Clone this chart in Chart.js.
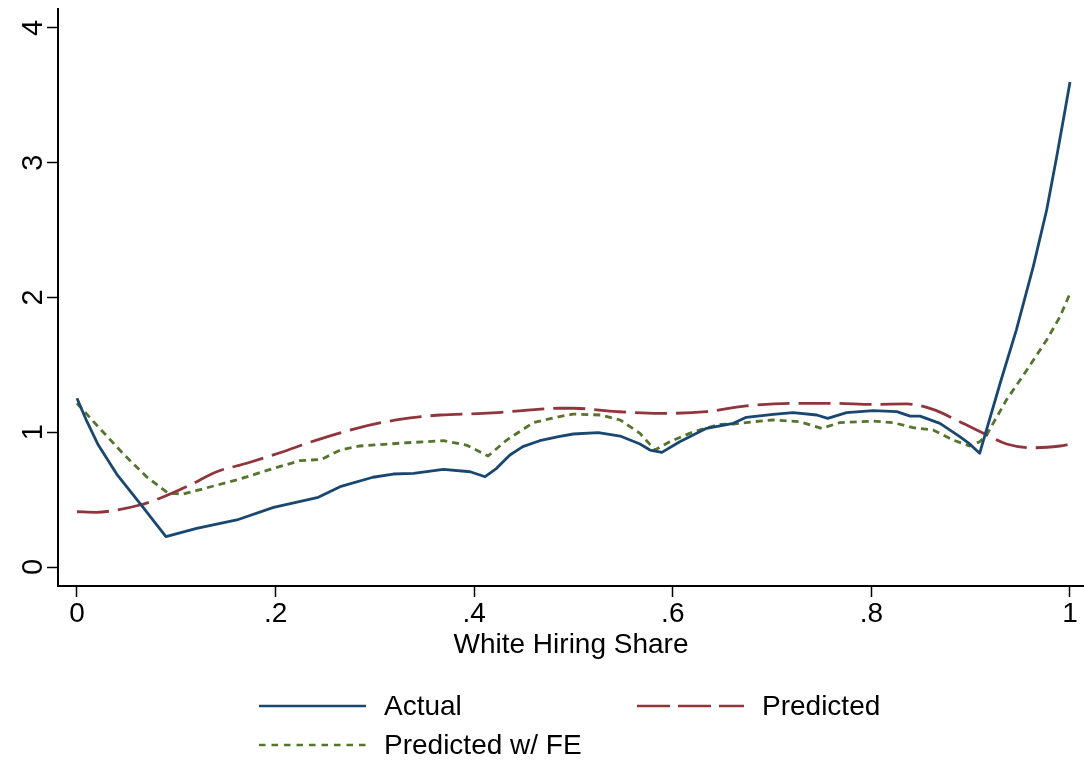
<!DOCTYPE html>
<html>
<head>
<meta charset="utf-8">
<title>White Hiring Share</title>
<script src="https://cdn.jsdelivr.net/npm/chart.js@4.4.1/dist/chart.umd.min.js"></script>
<style>
  html, body { margin: 0; padding: 0; background: #ffffff; }
  #wrap { width: 1084px; height: 762px; }
</style>
</head>
<body>
<div id="wrap"><canvas id="c" width="1084" height="762"></canvas></div>
<script>
// Series: ratio by white hiring share
const actualX = [0, 0.01, 0.0215, 0.04, 0.0668, 0.0896, 0.1205, 0.161, 0.198, 0.243, 0.265, 0.298, 0.3185, 0.339, 0.369, 0.396, 0.411, 0.4226, 0.436, 0.449, 0.466, 0.485, 0.4998, 0.525, 0.547, 0.567, 0.577, 0.589, 0.607, 0.634, 0.661, 0.674, 0.701, 0.721, 0.745, 0.756, 0.775, 0.802, 0.8255, 0.839, 0.849, 0.869, 0.889, 0.899, 0.909, 0.9295, 0.946, 0.963, 0.9765, 0.9866, 0.995, 1];
const actualY = [1.252, 1.08, 0.905, 0.69, 0.44, 0.225, 0.287, 0.349, 0.443, 0.517, 0.596, 0.666, 0.69, 0.695, 0.725, 0.707, 0.670, 0.732, 0.831, 0.893, 0.937, 0.967, 0.987, 0.997, 0.972, 0.913, 0.868, 0.851, 0.930, 1.029, 1.066, 1.111, 1.133, 1.145, 1.128, 1.103, 1.145, 1.16, 1.153, 1.12, 1.12, 1.066, 0.967, 0.913, 0.844, 1.36, 1.76, 2.229, 2.649, 3.045, 3.39, 3.60];

const predX = [0, 0.0198, 0.04, 0.0634, 0.0836, 0.114, 0.1407, 0.171, 0.2044, 0.2414, 0.2817, 0.325, 0.3656, 0.409, 0.449, 0.4847, 0.5, 0.5435, 0.587, 0.634, 0.674, 0.721, 0.7617, 0.802, 0.8355, 0.862, 0.889, 0.916, 0.936, 0.963, 0.99, 1];
const predY = [0.41, 0.406, 0.423, 0.46, 0.51, 0.609, 0.707, 0.77, 0.848, 0.942, 1.029, 1.096, 1.128, 1.14, 1.16, 1.178, 1.178, 1.153, 1.14, 1.153, 1.195, 1.215, 1.215, 1.207, 1.21, 1.17, 1.078, 0.98, 0.913, 0.885, 0.898, 0.91];

const feX = [0, 0.0215, 0.0466, 0.070, 0.092, 0.107, 0.161, 0.198, 0.2246, 0.2464, 0.265, 0.285, 0.332, 0.369, 0.392, 0.414, 0.4327, 0.4595, 0.4847, 0.4998, 0.527, 0.547, 0.567, 0.582, 0.597, 0.621, 0.6475, 0.661, 0.681, 0.701, 0.728, 0.75, 0.768, 0.802, 0.822, 0.842, 0.862, 0.8825, 0.899, 0.909, 0.916, 0.936, 0.9564, 0.9765, 0.99, 1];
const feY = [1.215, 1.04, 0.84, 0.67, 0.547, 0.542, 0.646, 0.732, 0.789, 0.799, 0.868, 0.898, 0.922, 0.937, 0.905, 0.824, 0.942, 1.071, 1.115, 1.135, 1.128, 1.091, 0.992, 0.868, 0.93, 1.004, 1.059, 1.061, 1.078, 1.091, 1.078, 1.029, 1.071, 1.083, 1.071, 1.034, 1.017, 0.942, 0.898, 0.93, 0.98, 1.24, 1.46, 1.685, 1.858, 2.03];

const seriesNames = ['Actual', 'Predicted', 'Predicted w/ FE'];
const xTickValues = [0, 0.2, 0.4, 0.6, 0.8, 1];
const yTickValues = [0, 1, 2, 3, 4];
const xTickLabels = ['0', '.2', '.4', '.6', '.8', '1'];
const yTickLabels = ['0', '1', '2', '3', '4'];
const xTitle = 'White Hiring Share';

const FONT = '"Liberation Sans", Arial, Helvetica, sans-serif';
const toPoints = (xs, ys) => xs.map((x, i) => ({ x: x, y: ys[i] }));

// y tick labels, rotated to read bottom-to-top
const yLabelPlugin = {
  id: 'yLabels',
  afterDraw(chart) {
    const ctx = chart.ctx, y = chart.scales.y;
    ctx.save();
    ctx.fillStyle = '#000';
    ctx.font = '29px ' + FONT;
    ctx.textAlign = 'center';
    ctx.textBaseline = 'alphabetic';
    yTickValues.forEach((v, i) => {
      const py = y.getPixelForValue(v);
      ctx.save();
      ctx.translate(42, py);
      ctx.rotate(-Math.PI / 2);
      ctx.fillText(yTickLabels[i], 0, 0);
      ctx.restore();
    });
    ctx.restore();
  }
};

// legend laid out in two columns below the plot
const legendPlugin = {
  id: 'gridLegend',
  afterDraw(chart) {
    const ctx = chart.ctx;
    const slots = [
      { x: 259, y: 706 },
      { x: 637, y: 706 },
      { x: 259, y: 745 }
    ];
    ctx.save();
    chart.data.datasets.forEach((ds, i) => {
      const s = slots[i];
      ctx.beginPath();
      ctx.strokeStyle = ds.borderColor;
      ctx.lineWidth = 2.6;
      ctx.lineCap = 'butt';
      ctx.setLineDash(ds.legendDash || []);
      ctx.moveTo(s.x, s.y);
      ctx.lineTo(s.x + 107, s.y);
      ctx.stroke();
      ctx.setLineDash([]);
      ctx.fillStyle = '#000';
      ctx.font = '28px ' + FONT;
      ctx.textAlign = 'left';
      ctx.textBaseline = 'middle';
      ctx.fillText(ds.label, s.x + 125, s.y + 1);
    });
    ctx.restore();
  }
};

new Chart(document.getElementById('c'), {
  type: 'line',
  data: {
    datasets: [
      {
        label: seriesNames[0],
        data: toPoints(actualX, actualY),
        borderColor: '#1a476f',
        borderWidth: 2.8,
        tension: 0,
        legendDash: []
      },
      {
        label: seriesNames[1],
        data: toPoints(predX, predY),
        borderColor: '#90353b',
        borderWidth: 2.8,
        borderDash: [32, 9],
        cubicInterpolationMode: 'monotone',
        legendDash: [33, 8]
      },
      {
        label: seriesNames[2],
        data: toPoints(feX, feY),
        borderColor: '#55752f',
        borderWidth: 2.8,
        borderDash: [7, 5],
        tension: 0,
        legendDash: [6.5, 6]
      }
    ]
  },
  options: {
    responsive: false,
    animation: false,
    parsing: true,
    elements: { point: { radius: 0 }, line: { borderCapStyle: 'butt', borderJoinStyle: 'round', fill: false } },
    layout: { padding: { left: 0, right: 0, top: 9, bottom: 100 } },
    plugins: { legend: { display: false }, tooltip: { enabled: false } },
    scales: {
      x: {
        type: 'linear',
        min: -0.0191,
        max: 1.0141,
        afterBuildTicks: s => { s.ticks = xTickValues.map(v => ({ value: v })); },
        afterFit: s => { s.height = 76; },
        ticks: {
          autoSkip: false,
          maxRotation: 0,
          minRotation: 0,
          padding: 3,
          color: '#000',
          font: { family: FONT, size: 28, lineHeight: 1.0 },
          callback: (v) => xTickLabels[xTickValues.indexOf(v)]
        },
        grid: { display: true, drawOnChartArea: false, drawTicks: true, tickLength: 11, tickColor: '#000', tickWidth: 1.5 },
        border: { display: true, color: '#000', width: 2 },
        title: { display: true, text: xTitle, color: '#000', font: { family: FONT, size: 28, lineHeight: 1.2 }, padding: 0 }
      },
      y: {
        type: 'linear',
        min: -0.141,
        max: 4.141,
        afterBuildTicks: s => { s.ticks = yTickValues.map(v => ({ value: v })); },
        afterFit: s => { s.width = 58; },
        ticks: { display: false },
        grid: { display: true, drawOnChartArea: false, drawTicks: true, tickLength: 11, tickColor: '#000', tickWidth: 1.5 },
        border: { display: true, color: '#000', width: 2 }
      }
    }
  },
  plugins: [yLabelPlugin, legendPlugin]
});
</script>
</body>
</html>
